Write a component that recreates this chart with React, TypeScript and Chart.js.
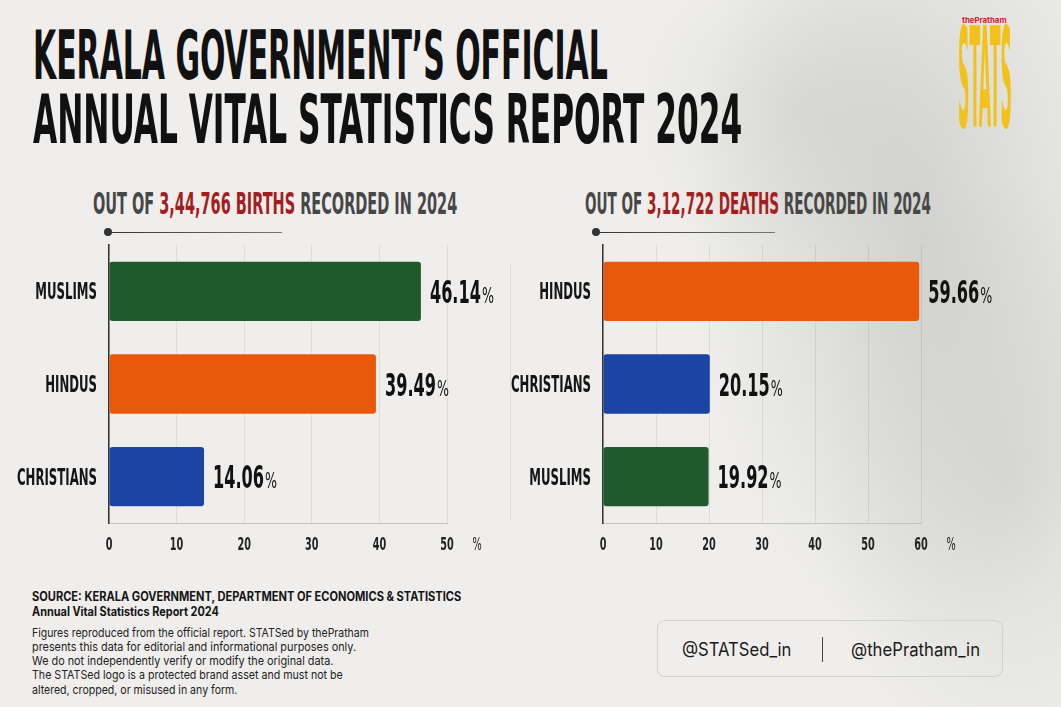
import React, { useEffect, useLayoutEffect, useRef, useState } from "react";
import { Chart, registerables } from "chart.js";
Chart.register(...registerables);

// ---------- data ----------
const birthCategories = ["MUSLIMS", "HINDUS", "CHRISTIANS"];
const birthValues = [46.14, 39.49, 14.06];
const deathCategories = ["HINDUS", "CHRISTIANS", "MUSLIMS"];
const deathValues = [59.66, 20.15, 19.92];
const birthAxisMax = 50;
const deathAxisMax = 60;
const tickStep = 10;

const GREEN = "#1f5a2c";
const ORANGE = "#e8590c";
const BLUE = "#1b44a5";
const birthColors = [GREEN, ORANGE, BLUE];
const deathColors = [ORANGE, BLUE, GREEN];

const NARROW = '"Liberation Sans Narrow", "DejaVu Sans Condensed", sans-serif';
const SANS = 'Inter, "Noto Sans", sans-serif';

function fitScale(ctx: CanvasRenderingContext2D, font: string, sample: string, target: number): number {
  ctx.save();
  ctx.font = font;
  const w = ctx.measureText(sample).width;
  ctx.restore();
  return w > 0 ? target / w : 1;
}

function drawC(ctx: CanvasRenderingContext2D, text: string, x: number, y: number, align: CanvasTextAlign, font: string, color: string, sx: number): number {
  ctx.save();
  ctx.font = font;
  ctx.fillStyle = color;
  ctx.textAlign = align;
  ctx.textBaseline = "alphabetic";
  const w = ctx.measureText(text).width * sx;
  ctx.translate(x, y);
  ctx.scale(sx, 1);
  ctx.fillText(text, 0, 0);
  ctx.restore();
  return w;
}

const CAT_FONT = `bold 23px ${NARROW}`;
const VAL_FONT = `bold 32px ${NARROW}`;
const PCT_FONT = `22px ${NARROW}`;
const TICK_FONT = `bold 18px ${NARROW}`;

const labelPlugin = {
  id: "customLabels",
  afterDraw(chart: any) {
    const ctx = chart.ctx as CanvasRenderingContext2D;
    const xs = chart.scales.x;
    const area = chart.chartArea;
    const meta = chart.getDatasetMeta(0);
    const cats = chart.data.labels as string[];
    const vals = chart.data.datasets[0].data as number[];
    const sCat = fitScale(ctx, CAT_FONT, "CHRISTIANS", 80);
    const sVal = fitScale(ctx, VAL_FONT, "46.14", 51);
    const sPct = fitScale(ctx, PCT_FONT, "%", 12);
    const sTick = fitScale(ctx, TICK_FONT, "10", 13.5);
    meta.data.forEach((bar: any, i: number) => {
      drawC(ctx, cats[i], area.left - 12, bar.y + 8, "right", CAT_FONT, "#151515", sCat);
      const txt = vals[i].toFixed(2);
      const w = drawC(ctx, txt, bar.x + 9, bar.y + 11.5, "left", VAL_FONT, "#111", sVal);
      drawC(ctx, "%", bar.x + 9 + w + 1, bar.y + 11.5, "left", PCT_FONT, "#111", sPct);
    });
    xs.ticks.forEach((t: any) => {
      drawC(ctx, String(t.value), xs.getPixelForValue(t.value), area.bottom + 26.5, "center", TICK_FONT, "#222", sTick);
    });
    drawC(ctx, "%", xs.getPixelForValue(xs.max) + 30, area.bottom + 26.5, "center", `18px ${NARROW}`, "#222", sTick);
  },
};

function makeChart(canvas: HTMLCanvasElement, cats: string[], vals: number[], colors: string[], max: number, yWidth: number, padRight: number) {
  return new Chart(canvas, {
    type: "bar",
    data: {
      labels: cats,
      datasets: [
        {
          data: vals,
          backgroundColor: colors,
          barPercentage: 0.8,
          categoryPercentage: 0.8,
          borderRadius: 3,
          borderSkipped: false,
        },
      ],
    },
    options: {
      indexAxis: "y",
      animation: false,
      responsive: false,
      maintainAspectRatio: false,
      layout: { padding: { left: 0, right: padRight, top: 5, bottom: 0 } },
      plugins: { legend: { display: false }, tooltip: { enabled: false } },
      scales: {
        x: {
          min: 0,
          max,
          ticks: { stepSize: tickStep, display: false },
          grid: { color: "rgba(0,0,0,0.07)", drawTicks: false },
          border: { display: true, color: "#c4c4c4" },
          afterFit: (s: any) => {
            s.height = 37;
          },
        },
        y: {
          ticks: { display: false },
          grid: { display: false },
          border: { display: true, color: "#333", width: 1.5 },
          afterFit: (s: any) => {
            s.width = yWidth;
          },
        },
      },
    } as any,
    plugins: [labelPlugin],
  });
}

function FitText(props: { x: number; y: number; w: number; size: number; weight?: any; family?: string; color?: string; sy?: number; children: any }) {
  const ref = useRef<HTMLDivElement>(null);
  const [s, setS] = useState(1);
  useLayoutEffect(() => {
    if (ref.current) {
      const nat = ref.current.offsetWidth;
      if (nat > 0) setS(props.w / nat);
    }
  }, []);
  return (
    <div
      ref={ref}
      style={{
        position: "absolute",
        left: props.x,
        top: props.y,
        whiteSpace: "nowrap",
        fontSize: props.size,
        lineHeight: `${props.size}px`,
        fontFamily: props.family || NARROW,
        fontWeight: props.weight ?? "bold",
        color: props.color || "#111",
        transform: `scale(${s}, ${props.sy ?? 1})`,
        transformOrigin: "left top",
      }}
    >
      {props.children}
    </div>
  );
}

export default function App() {
  const leftRef = useRef<HTMLCanvasElement>(null);
  const rightRef = useRef<HTMLCanvasElement>(null);

  useEffect(() => {
    const c1 = makeChart(leftRef.current!, birthCategories, birthValues, birthColors, birthAxisMax, 109, 73);
    const c2 = makeChart(rightRef.current!, deathCategories, deathValues, deathColors, deathAxisMax, 93, 140);
    return () => {
      c1.destroy();
      c2.destroy();
    };
  }, []);

  const red = "#a31f1f";
  const gray = "#474747";

  return (
    <div
      style={{
        position: "absolute",
        left: 0,
        top: 0,
        width: 1061,
        height: 707,
        overflow: "hidden",
        background:
          "radial-gradient(ellipse 230px 420px at 920px 230px, rgba(180,184,176,0.5), rgba(180,184,176,0) 100%), radial-gradient(ellipse 200px 300px at 1010px 480px, rgba(190,192,185,0.4), rgba(190,192,185,0) 100%), radial-gradient(ellipse 170px 170px at 800px 110px, rgba(195,197,190,0.35), rgba(195,197,190,0) 100%), #efeeec",
      }}
    >
      {/* Title */}
      <FitText x={33} y={22} w={575} size={68} color="#111">KERALA GOVERNMENT’S OFFICIAL</FitText>
      <FitText x={33} y={86} w={709} size={68} color="#111">ANNUAL VITAL STATISTICS REPORT 2024</FitText>

      {/* Logo */}
      <FitText x={962} y={16} w={45} size={8} family={SANS} color="#c0282d">thePratham</FitText>
      <FitText x={958} y={9} w={54} size={40} sy={3.46} color="#f3c21a">STATS</FitText>

      {/* Subtitles */}
      <FitText x={93} y={189} w={364} size={30} color={gray}>
        OUT OF <span style={{ color: red }}>3,44,766 BIRTHS</span> RECORDED IN 2024
      </FitText>
      <FitText x={585} y={189} w={346} size={30} color={gray}>
        OUT OF <span style={{ color: red }}>3,12,722 DEATHS</span> RECORDED IN 2024
      </FitText>
      <div style={{ position: "absolute", left: 104, top: 228, width: 8, height: 8, borderRadius: 4, background: "#333" }} />
      <div style={{ position: "absolute", left: 108, top: 232, width: 174, height: 1, background: "linear-gradient(to right, #333, #777)" }} />
      <div style={{ position: "absolute", left: 592, top: 228, width: 8, height: 8, borderRadius: 4, background: "#333" }} />
      <div style={{ position: "absolute", left: 596, top: 232, width: 179, height: 1, background: "linear-gradient(to right, #333, #777)" }} />

      {/* divider */}
      <div style={{ position: "absolute", left: 510, top: 265, width: 1, height: 255, background: "rgba(0,0,0,0.08)" }} />

      {/* Charts */}
      <canvas ref={leftRef} width={520} height={320} style={{ position: "absolute", left: 0, top: 240, width: 520, height: 320 }} />
      <canvas ref={rightRef} width={551} height={320} style={{ position: "absolute", left: 510, top: 240, width: 551, height: 320 }} />

      {/* Footer */}
      <FitText x={32} y={590.5} w={429} size={12.5} family={SANS} color="#151515">
        SOURCE: KERALA GOVERNMENT, DEPARTMENT OF ECONOMICS &amp; STATISTICS
      </FitText>
      <FitText x={32} y={605.5} w={187} size={12.5} family={SANS} color="#151515">
        Annual Vital Statistics Report 2024
      </FitText>
      <FitText x={32} y={626.7} w={337} size={12} weight="normal" family={SANS} color="#222">
        Figures reproduced from the official report. STATSed by thePratham
      </FitText>
      <FitText x={32} y={640.9} w={324} size={12} weight="normal" family={SANS} color="#222">
        presents this data for editorial and informational purposes only.
      </FitText>
      <FitText x={32} y={655.1} w={301} size={12} weight="normal" family={SANS} color="#222">
        We do not independently verify or modify the original data.
      </FitText>
      <FitText x={32} y={669.3} w={311} size={12} weight="normal" family={SANS} color="#222">
        The STATSed logo is a protected brand asset and must not be
      </FitText>
      <FitText x={32} y={683.5} w={205} size={12} weight="normal" family={SANS} color="#222">
        altered, cropped, or misused in any form.
      </FitText>

      {/* Social box */}
      <div
        style={{
          position: "absolute",
          left: 657,
          top: 620,
          width: 346,
          height: 57,
          border: "1px solid #d2d2d0",
          borderRadius: 8,
          boxSizing: "border-box",
        }}
      />
      <div style={{ position: "absolute", left: 822, top: 637, width: 1, height: 25, background: "#444" }} />
      <FitText x={682} y={641} w={109} size={18} weight="normal" family={SANS} color="#1a1a1a">@STATSed_in</FitText>
      <FitText x={851} y={641} w={129} size={18} weight="normal" family={SANS} color="#1a1a1a">@thePratham_in</FitText>
    </div>
  );
}
